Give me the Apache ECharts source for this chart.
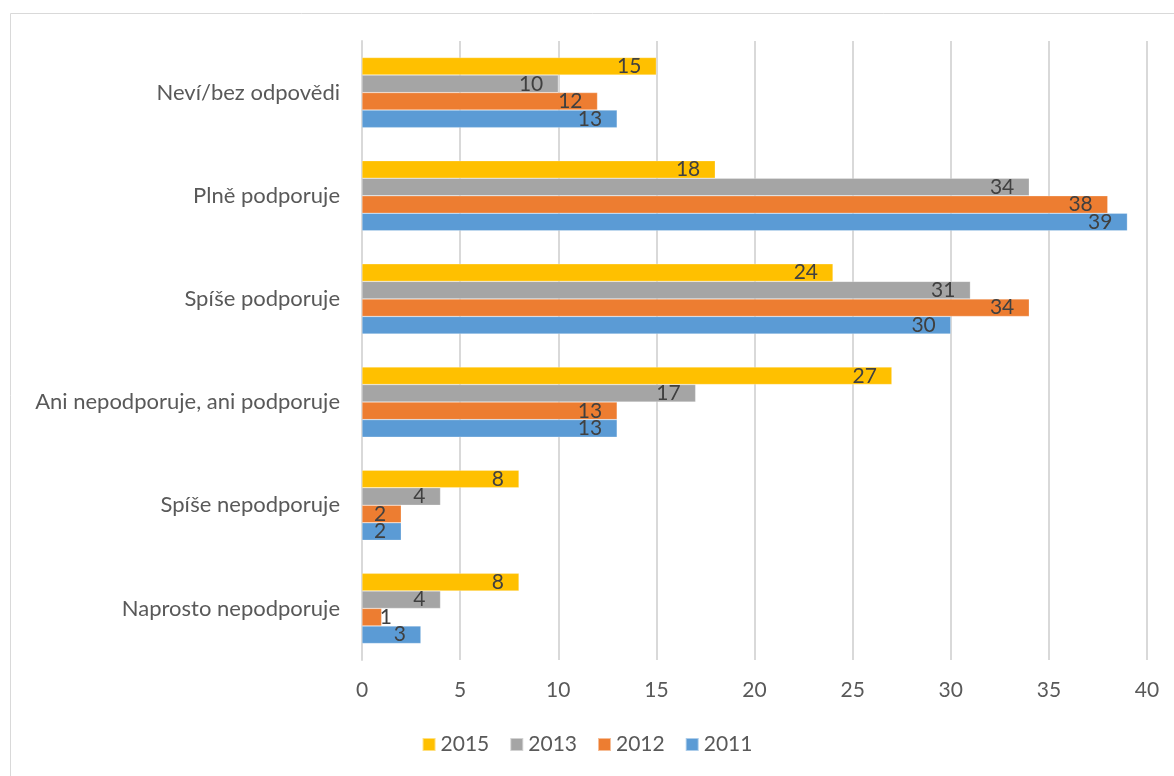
<!DOCTYPE html>
<html>
<head>
<meta charset="utf-8">
<script src="https://cdn.jsdelivr.net/npm/echarts@6/dist/echarts.min.js"></script>
<style>
  html, body { margin: 0; padding: 0; background: #fff; }
  #chart { width: 1174px; height: 776px; }
</style>
</head>
<body>
<div id="chart"></div>
<script>
// kategorie odspodu nahoru
var categories = [
  'Naprosto nepodporuje',
  'Spíše nepodporuje',
  'Ani nepodporuje, ani podporuje',
  'Spíše podporuje',
  'Plně podporuje',
  'Neví/bez odpovědi'
];
var years = ['2015', '2013', '2012', '2011'];
var values2015 = [8, 8, 27, 24, 18, 15];
var values2013 = [4, 4, 17, 31, 34, 10];
var values2012 = [1, 2, 13, 34, 38, 12];
var values2011 = [3, 2, 13, 30, 39, 13];
var xTicks = [0, 5, 10, 15, 20, 25, 30, 35, 40];

var colors = {
  '2015': '#ffc000',
  '2013': '#a5a5a5',
  '2012': '#ed7d31',
  '2011': '#5b9bd5'
};
var font = 'Lato, "Liberation Sans", sans-serif';

function makeSeries(name, data) {
  return {
    name: name,
    type: 'bar',
    barGap: '0%',
    barCategoryGap: '32%',
    itemStyle: { color: colors[name], borderColor: 'rgba(255,255,255,0.5)', borderWidth: 0.5 },
    label: {
      show: true,
      position: 'insideRight',
      distance: 15,
      color: '#404040',
      fontSize: 21,
      fontFamily: font
    },
    // moc krátký sloupec: popisek hned za konec
    data: data.map(function (v) {
      if (v < 2) {
        return { value: v, label: { position: 'right', distance: -2 } };
      }
      return v;
    })
  };
}

var chart = echarts.init(document.getElementById('chart'));
chart.setOption({
  animation: false,
  textStyle: { fontFamily: font },
  graphic: [{
    type: 'rect',
    shape: { x: 10.5, y: 13.5, width: 1200, height: 800 },
    style: { fill: 'none', stroke: '#d9d9d9', lineWidth: 1 },
    silent: true
  }],
  grid: { left: 362, right: 27, top: 41, height: 619 },
  legend: {
    data: years,
    bottom: 16,
    left: 'center',
    itemWidth: 13,
    itemHeight: 13,
    itemGap: 20,
    icon: 'rect',
    textStyle: { color: '#595959', fontSize: 21, fontFamily: font }
  },
  xAxis: {
    type: 'value',
    min: xTicks[0],
    max: xTicks[xTicks.length - 1],
    interval: 5,
    axisLine: { show: false },
    axisTick: { show: false },
    axisLabel: { color: '#595959', fontSize: 21, margin: 20, fontFamily: font },
    splitLine: { lineStyle: { color: '#d9d9d9', width: 2 } }
  },
  yAxis: {
    type: 'category',
    data: categories,
    axisLine: { show: true, lineStyle: { color: '#d9d9d9', width: 2 } },
    axisTick: { show: false },
    axisLabel: { color: '#595959', fontSize: 22, margin: 22, fontFamily: font }
  },
  // v ECharts je první řada v kategorii nahoře
  series: [
    makeSeries('2015', values2015),
    makeSeries('2013', values2013),
    makeSeries('2012', values2012),
    makeSeries('2011', values2011)
  ]
});
</script>
</body>
</html>
